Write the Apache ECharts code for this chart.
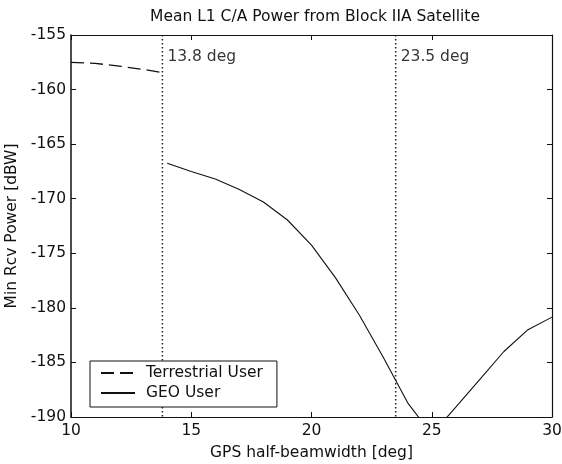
<!DOCTYPE html>
<html>
<head>
<meta charset="utf-8">
<script src="https://cdn.jsdelivr.net/npm/echarts@6/dist/echarts.min.js"></script>
<style>
html,body{margin:0;padding:0;background:#fff;}
#chart{width:562px;height:464px;}
</style>
</head>
<body>
<div id="chart"></div>
<script>
// ---- data ----
const terrestrialX = [10, 11, 12, 13, 13.8];
const terrestrialY = [-157.5, -157.6, -157.85, -158.15, -158.45];
const geoX = [14, 15, 16, 17, 18, 19, 20, 21, 22, 23, 24, 25, 26, 27, 28, 29, 30];
const geoY = [-166.75, -167.5, -168.2, -169.15, -170.3, -171.95, -174.25, -177.25, -180.7, -184.6, -188.7, -191.6, -189.1, -186.55, -184.0, -182.0, -180.85];
const markerX = [13.8, 23.5];
const markerLabels = ['13.8 deg', '23.5 deg'];
const xTicks = [10, 15, 20, 25, 30];
const yTicks = [-190, -185, -180, -175, -170, -165, -160, -155];
const seriesNames = ['Terrestrial User', 'GEO User'];
const titleText = 'Mean L1 C/A Power from Block IIA Satellite';
const xName = 'GPS half-beamwidth [deg]';
const yName = 'Min Rcv Power [dBW]';

const FONT = 'DejaVu Sans';
const FS = 15.5;
const zip = (a, b) => a.map((v, i) => [v, b[i]]);

const chart = echarts.init(document.getElementById('chart'));
const yMin = yTicks[0], yMax = yTicks[yTicks.length - 1];

const markerSeries = markerX.map(x => ({
  type: 'line', data: [[x, yMax], [x, yMin]], symbol: 'none', silent: true,
  lineStyle: { color: '#222', width: 1.5, type: [1.5, 2.5] }, z: 1
}));
const labelSeries = {
  type: 'scatter', symbolSize: 0, silent: true,
  itemStyle: { color: '#111' },
  data: markerX.map((x, i) => ({ value: [x, -157.0], name: markerLabels[i] })),
  label: { show: true, position: 'right', distance: 5, formatter: p => p.name,
    color: '#000', fontFamily: FONT, fontSize: FS }
};

chart.setOption({
  backgroundColor: '#fff',
  animation: false,
  title: { text: titleText, left: 310, top: 4, textAlign: 'center',
    textStyle: { fontFamily: FONT, fontSize: FS, fontWeight: 'normal', color: '#111' } },
  grid: { left: 71, right: 10, top: 35, bottom: 47, containLabel: false, outerBoundsMode: 'none' },
  legend: {
    data: seriesNames, orient: 'vertical', left: 90, top: 361,
    borderColor: '#111', borderWidth: 1, padding: [4, 14, 6, 10],
    itemWidth: 34, itemHeight: 16, itemGap: 4, backgroundColor: '#fff',
    itemStyle: { color: 'transparent', borderColor: 'transparent', borderWidth: 0, opacity: 0 },
    textStyle: { fontFamily: FONT, fontSize: FS, color: '#111', padding: [0, 0, 0, 6] }
  },
  xAxis: [{
    type: 'value', min: xTicks[0], max: xTicks[xTicks.length - 1], interval: 5,
    name: xName, nameLocation: 'middle', nameGap: 28,
    nameTextStyle: { fontFamily: FONT, fontSize: FS, color: '#111' },
    axisLine: { lineStyle: { color: '#111', width: 1.2 } },
    axisTick: { inside: true, length: 5, lineStyle: { color: '#111' } },
    axisLabel: { fontFamily: FONT, fontSize: FS, color: '#111', margin: 6 },
    splitLine: { show: false }
  }, {
    type: 'value', position: 'top', min: xTicks[0], max: xTicks[xTicks.length - 1], interval: 5,
    axisLine: { show: true, lineStyle: { color: '#111', width: 1.2 } },
    axisTick: { inside: true, length: 5, lineStyle: { color: '#111' } },
    axisLabel: { show: false }, splitLine: { show: false }
  }],
  yAxis: [{
    type: 'value', min: yMin, max: yMax, interval: 5,
    name: yName, nameLocation: 'middle', nameGap: 51,
    nameTextStyle: { fontFamily: FONT, fontSize: FS, color: '#111' },
    axisLine: { show: true, lineStyle: { color: '#111', width: 1.5 } },
    axisTick: { show: true, inside: true, length: 5, lineStyle: { color: '#111' } },
    axisLabel: { fontFamily: FONT, fontSize: FS, color: '#111', margin: 5 },
    splitLine: { show: false }
  }, {
    type: 'value', position: 'right', min: yMin, max: yMax, interval: 5,
    axisLine: { show: true, lineStyle: { color: '#111', width: 1.2 } },
    axisTick: { show: true, inside: true, length: 5, lineStyle: { color: '#111' } },
    axisLabel: { show: false }, splitLine: { show: false }
  }],
  series: [
    ...markerSeries,
    labelSeries,
    { name: seriesNames[0], type: 'line', data: zip(terrestrialX, terrestrialY), symbol: 'none',
      lineStyle: { color: '#111', width: 1.3, type: [13, 6] }, itemStyle: { color: '#111' }, z: 3 },
    { name: seriesNames[1], type: 'line', data: zip(geoX, geoY), symbol: 'none',
      lineStyle: { color: '#111', width: 1.1 }, itemStyle: { color: '#111' }, z: 3 }
  ]
});
</script>
</body>
</html>
